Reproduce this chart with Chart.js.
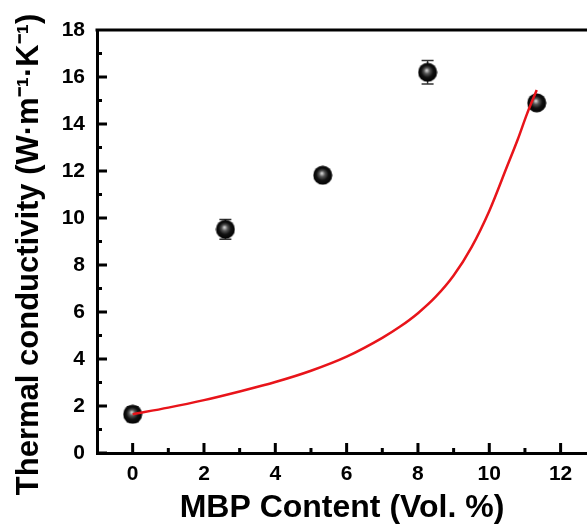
<!DOCTYPE html>
<html>
<head>
<meta charset="utf-8">
<script src="https://cdn.jsdelivr.net/npm/chart.js@4.4.1/dist/chart.umd.min.js"></script>
<style>
  html, body { margin: 0; padding: 0; background: #fff; }
  #wrap { width: 587px; height: 529px; position: relative; }
</style>
</head>
<body>
<div id="wrap"><canvas id="chart"></canvas></div>
<script>
// measured points
var content = [0, 2.6, 5.33, 8.27, 11.33];
var conductivity = [1.65, 9.52, 11.82, 16.2, 14.9];
var errors = [0.32, 0.42, 0.18, 0.5, 0.18];

// fitted curve
var fitX = [0, 1, 2, 3, 4, 5, 6, 7, 7.5, 8, 8.5, 9, 9.5, 10, 10.5, 10.8, 11.05, 11.33];
var fitY = [1.65, 1.93, 2.25, 2.62, 3.02, 3.5, 4.1, 4.9, 5.38, 5.95, 6.65, 7.55, 8.75, 10.3, 12.2, 13.35, 14.4, 15.45];

var xTicks = [0, 2, 4, 6, 8, 10, 12];
var xMinor = [1, 3, 5, 7, 9, 11];
var yTicks = [0, 2, 4, 6, 8, 10, 12, 14, 16, 18];
var yMinor = [1, 3, 5, 7, 9, 11, 13, 15, 17];

function sphere() {
    var c = document.createElement('canvas');
    c.width = 20; c.height = 20;
    var g = c.getContext('2d');
    var grad = g.createRadialGradient(9, 8, 0, 10, 10, 10);
    grad.addColorStop(0, '#e8e8e8');
    grad.addColorStop(0.3, '#555');
    grad.addColorStop(0.6, '#111');
    grad.addColorStop(1, '#000');
    g.fillStyle = grad;
    g.beginPath();
    g.arc(10, 10, 9.5, 0, Math.PI * 2);
    g.fill();
    return c;
}

var axisDecor = {
    id: 'axisDecor',
    beforeDatasetsDraw: function (chart) {
        var ctx = chart.ctx, x = chart.scales.x, y = chart.scales.y;
        ctx.save();
        ctx.strokeStyle = '#333';
        ctx.lineWidth = 1.5;
        content.forEach(function (v, i) {
            var px = x.getPixelForValue(v);
            var top = y.getPixelForValue(conductivity[i] + errors[i]);
            var bot = y.getPixelForValue(conductivity[i] - errors[i]);
            ctx.beginPath();
            ctx.moveTo(px, top); ctx.lineTo(px, bot);
            ctx.moveTo(px - 6, top); ctx.lineTo(px + 6, top);
            ctx.moveTo(px - 6, bot); ctx.lineTo(px + 6, bot);
            ctx.stroke();
        });
        ctx.restore();
    },
    afterDraw: function (chart) {
        var ctx = chart.ctx, a = chart.chartArea, x = chart.scales.x, y = chart.scales.y;
        ctx.save();
        ctx.strokeStyle = '#000';
        ctx.lineWidth = 3;
        ctx.beginPath();
        ctx.moveTo(a.left - 1.5, a.top);
        ctx.lineTo(chart.width, a.top);
        xTicks.forEach(function (v) {
            var px = x.getPixelForValue(v);
            ctx.moveTo(px, a.bottom); ctx.lineTo(px, a.bottom - 10);
        });
        xMinor.forEach(function (v) {
            var px = x.getPixelForValue(v);
            ctx.moveTo(px, a.bottom); ctx.lineTo(px, a.bottom - 5);
        });
        yTicks.forEach(function (v) {
            var py = y.getPixelForValue(v);
            ctx.moveTo(a.left, py); ctx.lineTo(a.left + 10, py);
        });
        yMinor.forEach(function (v) {
            var py = y.getPixelForValue(v);
            ctx.moveTo(a.left, py); ctx.lineTo(a.left + 5, py);
        });
        ctx.stroke();
        ctx.restore();
    }
};

var font = 'Liberation Sans, Arial, sans-serif';

new Chart(document.getElementById('chart'), {
    type: 'scatter',
    data: {
        datasets: [{
            label: 'Fit',
            type: 'line',
            data: fitX.map(function (v, i) { return { x: v, y: fitY[i] }; }),
            borderColor: '#e8141a',
            borderWidth: 2.5,
            pointRadius: 0,
            cubicInterpolationMode: 'monotone',
            fill: false,
            order: 0
        }, {
            label: 'Measured',
            data: content.map(function (v, i) { return { x: v, y: conductivity[i] }; }),
            pointStyle: sphere(),
            pointRadius: 10,
            order: 1
        }]
    },
    options: {
        responsive: true,
        maintainAspectRatio: false,
        animation: false,
        layout: { autoPadding: false, padding: { top: 30, right: 0, left: 0, bottom: 0 } },
        plugins: { legend: { display: false }, tooltip: { enabled: false } },
        scales: {
            x: {
                type: 'linear',
                min: -1,
                max: 12.74,
                afterBuildTicks: function (s) { s.ticks = xTicks.map(function (v) { return { value: v }; }); },
                afterFit: function (s) { s.height = 76; s.paddingLeft = 0; s.paddingRight = 0; },
                grid: { display: false, drawTicks: false },
                border: { display: true, color: '#000', width: 3 },
                ticks: { color: '#000', padding: 9, maxRotation: 0, font: { family: font, size: 21, weight: 'bold' } },
                title: {
                    display: true,
                    text: 'MBP Content (Vol. %)',
                    color: '#000',
                    padding: { top: 2, bottom: 2 },
                    font: { family: font, size: 32, weight: 'bold' }
                }
            },
            y: {
                min: 0,
                max: 18,
                afterBuildTicks: function (s) { s.ticks = yTicks.map(function (v) { return { value: v }; }); },
                afterFit: function (s) { s.width = 97; },
                grid: { display: false, drawTicks: false },
                border: { display: true, color: '#000', width: 3 },
                ticks: { color: '#000', padding: 12, font: { family: font, size: 21, weight: 'bold' } },
                title: {
                    display: true,
                    text: 'Thermal conductivity (W·m⁻¹·K⁻¹)   ',
                    color: '#000',
                    padding: { top: 11, bottom: 0 },
                    font: { family: font, size: 31, weight: 'bold' }
                }
            }
        }
    },
    plugins: [axisDecor]
});
</script>
</body>
</html>
